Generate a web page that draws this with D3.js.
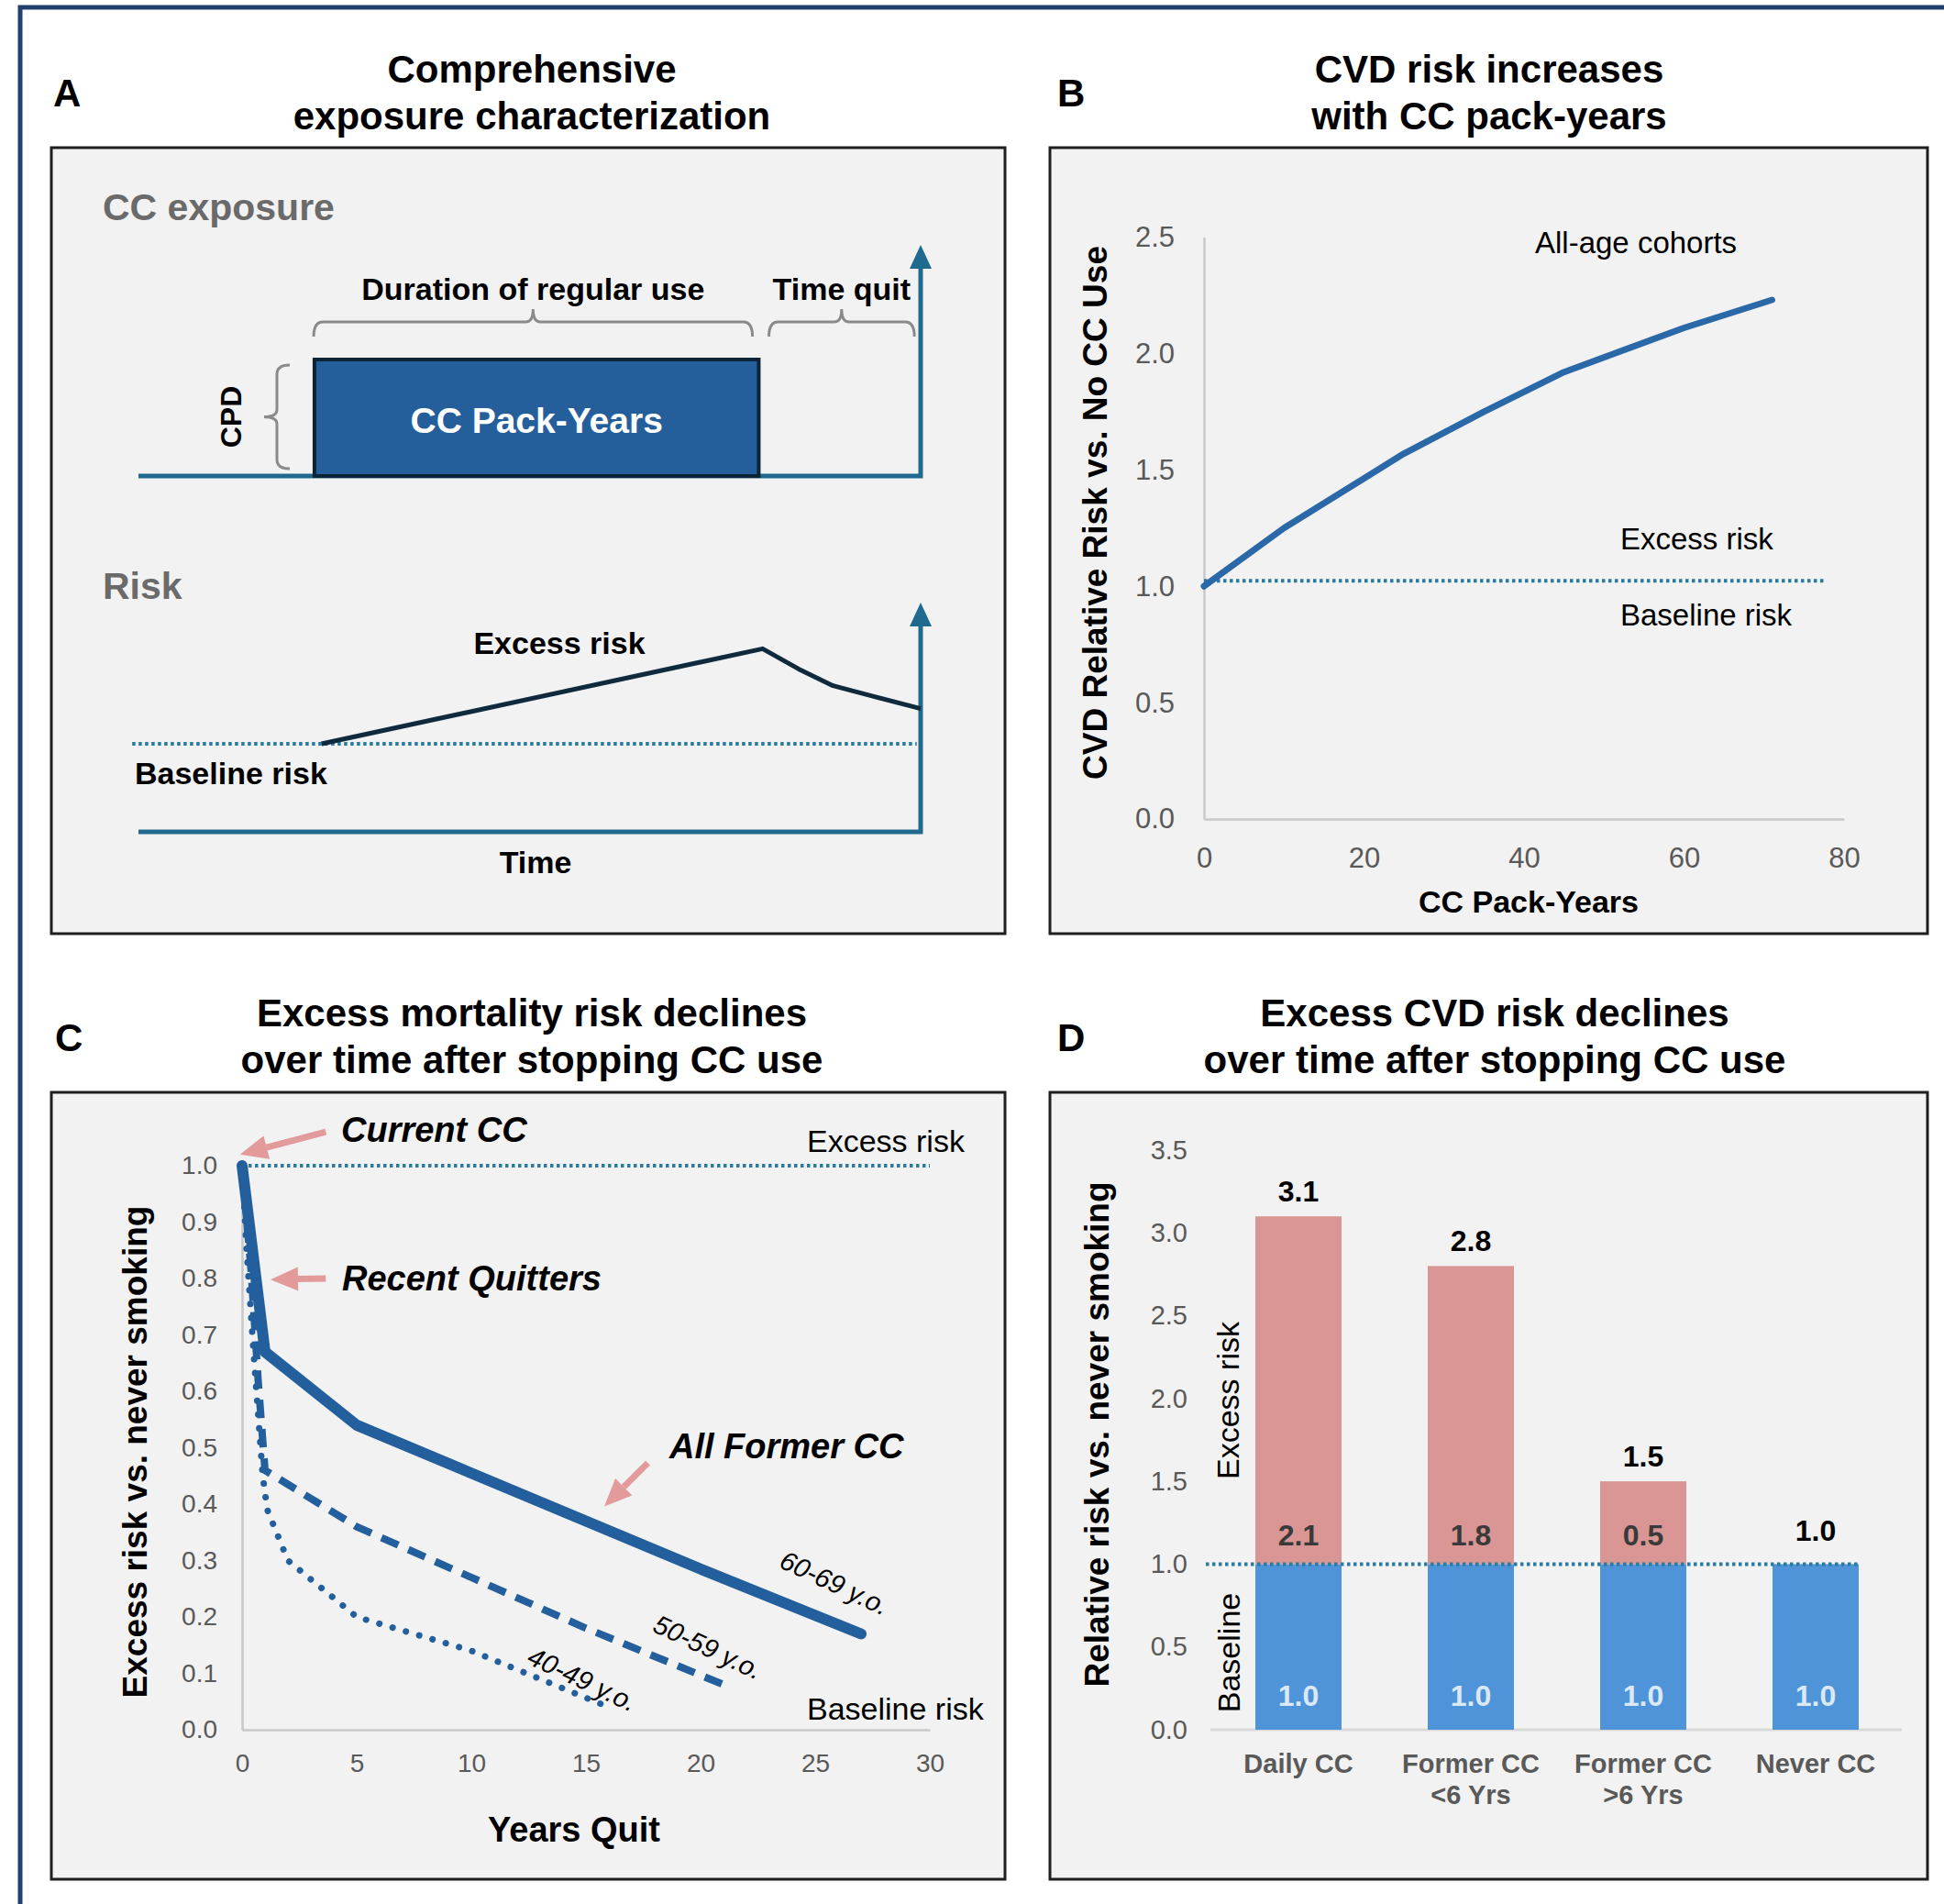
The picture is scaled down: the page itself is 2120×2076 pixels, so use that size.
<!DOCTYPE html>
<html><head><meta charset="utf-8">
<script src="https://cdn.jsdelivr.net/npm/d3@7"></script>
<style>body{margin:0;background:#fff}svg{display:block}</style>
</head><body><svg id="c" width="2120" height="2076"></svg>
<script>
// ---------------- DATA ----------------
// Panel A (schematic; time in arbitrary units 0-100, risk relative to baseline = 1)
const aUsePeriod = [22.5, 79.3];
const aBraceLabels = ['Duration of regular use', 'Time quit'];
const aBraceFrom = [22.4, 80.6];
const aBraceTo = [78.5, 99.2];
const aRiskTime = [23.4, 79.8, 84.4, 88.8, 93.9, 100];
const aRiskLevel = [1.0, 2.08, 1.85, 1.66, 1.54, 1.40];

// Panel B
const bPackYears = [0, 10, 25, 35, 45, 60, 71];
const bRelRisk = [1.0, 1.25, 1.57, 1.75, 1.92, 2.11, 2.23];
const bXTicks = [0, 20, 40, 60, 80];
const bYTicks = [0, 0.5, 1.0, 1.5, 2.0, 2.5];

// Panel C
const cYears6069 = [0, 1, 5, 10, 15, 20, 27];
const cRisk6069 = [1.0, 0.67, 0.54, 0.455, 0.37, 0.285, 0.17];
const cYears5059 = [0, 0.4, 0.7, 1, 5, 10, 15, 21];
const cRisk5059 = [1.0, 0.81, 0.62, 0.46, 0.36, 0.27, 0.18, 0.08];
const cYears4049 = [0, 0.2, 0.5, 0.9, 1.1, 2, 5, 10, 16];
const cRisk4049 = [1.0, 0.85, 0.67, 0.45, 0.39, 0.30, 0.20, 0.14, 0.04];
const cXTicks = [0, 5, 10, 15, 20, 25, 30];
const cYTicks = [0, 0.1, 0.2, 0.3, 0.4, 0.5, 0.6, 0.7, 0.8, 0.9, 1.0];

// Panel D
const dCategories = ['Daily CC', 'Former CC\n<6 Yrs', 'Former CC\n>6 Yrs', 'Never CC'];
const dBaseline = [1.0, 1.0, 1.0, 1.0];
const dExcess = [2.1, 1.8, 0.5, 0.0];
const dYTicks = [0, 0.5, 1.0, 1.5, 2.0, 2.5, 3.0, 3.5];

// ---------------- DRAW ----------------
const FONT = '"Liberation Sans", Arial, Helvetica, sans-serif';
const BLUE = '#235f9c', TEAL = '#1f6a8e', DOT = '#2a7ba0', PINK = '#e29a9a', GRAY = '#595959';
const svg = d3.select('#c').style('font-family', FONT);
svg.append('rect').attr('width', 2120).attr('height', 2076).attr('fill', '#fff');

function txt(g, x, y, s, size, opts = {}) {
  const t = g.append('text').attr('x', x).attr('y', y).text(s)
    .attr('font-size', size).attr('font-weight', opts.bold ? 'bold' : 'normal')
    .attr('font-style', opts.italic ? 'italic' : 'normal')
    .attr('fill', opts.fill || '#000').attr('text-anchor', opts.anchor || 'start');
  if (opts.rotate !== undefined) t.attr('transform', `rotate(${opts.rotate},${x},${y})`);
  if (opts.central) t.attr('dominant-baseline', 'central');
  return t;
}

// outer frame
svg.append('path').attr('d', 'M22,2076 L22,8 L2120,8').attr('fill', 'none')
  .attr('stroke', '#22406e').attr('stroke-width', 5);

// panel boxes
[[56, 161, 1040, 857], [1145, 161, 957, 857], [56, 1191, 1040, 858], [1145, 1191, 957, 858]].forEach(b => {
  svg.append('rect').attr('x', b[0]).attr('y', b[1]).attr('width', b[2]).attr('height', b[3])
    .attr('fill', '#f2f2f2').attr('stroke', '#1e1e1e').attr('stroke-width', 3);
});

// panel letters & titles
[['A', 58, 116], ['B', 1153, 116], ['C', 60, 1146], ['D', 1153, 1146]].forEach(l => txt(svg, l[1], l[2], l[0], 42, {bold: true}));
const titles = [
  [580, 90, ['Comprehensive', 'exposure characterization']],
  [1624, 90, ['CVD risk increases', 'with CC pack-years']],
  [580, 1119, ['Excess mortality risk declines', 'over time after stopping CC use']],
  [1630, 1119, ['Excess CVD risk declines', 'over time after stopping CC use']]
];
titles.forEach(t => t[2].forEach((line, i) => txt(svg, t[0], t[1] + i * 51, line, 42, {bold: true, anchor: 'middle'})));

// ======== Panel A ========
const gA = svg.append('g');
const ax = d3.scaleLinear().domain([0, 100]).range([151, 1004]);
const ayExp = d3.scaleLinear().domain([0, 1]).range([519, 392]);
const ayRisk = d3.scaleLinear().domain([0, 1]).range([907, 811]);

txt(gA, 112, 240, 'CC exposure', 41, {bold: true, fill: '#6a6a6a'});
txt(gA, 112, 653, 'Risk', 41, {bold: true, fill: '#6a6a6a'});

function axisArrow(g, yBase, yTop) {
  g.append('path').attr('d', `M${ax(0)},${yBase} H${ax(100)} V${yTop + 20}`).attr('fill', 'none')
    .attr('stroke', TEAL).attr('stroke-width', 5);
  g.append('path').attr('d', `M${ax(100) - 12},${yTop + 26} L${ax(100)},${yTop} L${ax(100) + 12},${yTop + 26} Z`).attr('fill', TEAL);
}
axisArrow(gA, ayExp(0), 267);

// pack-years rectangle
gA.append('rect').attr('x', ax(aUsePeriod[0])).attr('y', ayExp(1))
  .attr('width', ax(aUsePeriod[1]) - ax(aUsePeriod[0])).attr('height', ayExp(0) - ayExp(1))
  .attr('fill', '#245f9c').attr('stroke', '#0c2436').attr('stroke-width', 4);
txt(gA, (ax(aUsePeriod[0]) + ax(aUsePeriod[1])) / 2, 458, 'CC Pack-Years', 39, {bold: true, fill: '#fff', anchor: 'middle', central: true});

// horizontal braces
function hBrace(x1, x2, y) {
  const m = (x1 + x2) / 2;
  return `M${x1},${y + 16} Q${x1},${y} ${x1 + 10},${y} H${m - 8} Q${m},${y} ${m},${y - 14} Q${m},${y} ${m + 8},${y} H${x2 - 10} Q${x2},${y} ${x2},${y + 16}`;
}
aBraceLabels.forEach((lab, i) => {
  const x1 = ax(aBraceFrom[i]), x2 = ax(aBraceTo[i]);
  gA.append('path').attr('d', hBrace(x1, x2, 351)).attr('fill', 'none').attr('stroke', '#8a8a8a').attr('stroke-width', 3);
  txt(gA, (x1 + x2) / 2, 327, lab, 34, {bold: true, anchor: 'middle'});
});
// CPD brace (vertical)
{
  const yT = ayExp(1) + 6, yB = ayExp(0) - 8, ym = (yT + yB) / 2, x = 302;
  gA.append('path').attr('d', `M${x + 14},${yT} Q${x},${yT} ${x},${yT + 10} V${ym - 8} Q${x},${ym} ${x - 14},${ym} Q${x},${ym} ${x},${ym + 8} V${yB - 10} Q${x},${yB} ${x + 14},${yB}`)
    .attr('fill', 'none').attr('stroke', '#8a8a8a').attr('stroke-width', 3);
  txt(gA, 252, ym, 'CPD', 32, {bold: true, anchor: 'middle', central: true, rotate: -90});
}

// risk schematic
axisArrow(gA, ayRisk(0), 657);
gA.append('line').attr('x1', ax(-0.8)).attr('x2', ax(99.5)).attr('y1', ayRisk(1)).attr('y2', ayRisk(1))
  .attr('stroke', DOT).attr('stroke-width', 4).attr('stroke-dasharray', '3.5 3.5');
gA.append('path').datum(aRiskTime.map((t, i) => [t, aRiskLevel[i]]))
  .attr('d', d3.line().x(d => ax(d[0])).y(d => ayRisk(d[1])))
  .attr('fill', 'none').attr('stroke', '#0e2a3c').attr('stroke-width', 5).attr('stroke-linejoin', 'round');
txt(gA, 610, 713, 'Excess risk', 34, {bold: true, anchor: 'middle'});
txt(gA, 147, 855, 'Baseline risk', 34, {bold: true});
txt(gA, 584, 952, 'Time', 34, {bold: true, anchor: 'middle'});

// ======== Panel B ========
const gB = svg.append('g');
const bx = d3.scaleLinear().domain([0, 80]).range([1313, 2011]);
const by = d3.scaleLinear().domain([0, 2.5]).range([893, 258.5]);
function styleAxis(g, size) {
  g.select('.domain').attr('stroke', '#c8c8c8').attr('stroke-width', 2.5);
  g.selectAll('.tick text').attr('font-size', size).attr('fill', GRAY).attr('font-family', FONT);
  g.selectAll('.tick line').remove();
}
gB.append('g').attr('transform', `translate(${bx(0)},0)`)
  .call(d3.axisLeft(by).tickValues(bYTicks).tickFormat(d3.format('.1f')).tickSize(0).tickPadding(32))
  .call(g => styleAxis(g, 31));
gB.append('g').attr('transform', `translate(0,${by(0)})`)
  .call(d3.axisBottom(bx).tickValues(bXTicks).tickFormat(d3.format('d')).tickSize(0).tickPadding(31))
  .call(g => styleAxis(g, 31));
gB.append('line').attr('x1', bx(0)).attr('x2', bx(77.5)).attr('y1', by(1.0) - 6).attr('y2', by(1.0) - 6)
  .attr('stroke', DOT).attr('stroke-width', 4).attr('stroke-dasharray', '3.5 3.5');
gB.append('path').datum(bPackYears.map((p, i) => [p, bRelRisk[i]]))
  .attr('d', d3.line().x(d => bx(d[0])).y(d => by(d[1])))
  .attr('fill', 'none').attr('stroke', '#2b68a8').attr('stroke-width', 7).attr('stroke-linecap', 'round').attr('stroke-linejoin', 'round');
txt(gB, 1674, 276, 'All-age cohorts', 33);
txt(gB, 1767, 599, 'Excess risk', 33);
txt(gB, 1767, 682, 'Baseline risk', 33);
txt(gB, 1667, 995, 'CC Pack-Years', 34, {bold: true, anchor: 'middle'});
txt(gB, 1194, 559, 'CVD Relative Risk vs. No CC Use', 37, {bold: true, anchor: 'middle', central: true, rotate: -90});

// ======== Panel C ========
const gC = svg.append('g');
const cx = d3.scaleLinear().domain([0, 30]).range([264, 1014]);
const cy = d3.scaleLinear().domain([0, 1]).range([1886, 1271]);
gC.append('g').attr('transform', `translate(${cx(0)},0)`)
  .call(d3.axisLeft(cy).tickValues(cYTicks).tickFormat(d3.format('.1f')).tickSize(0).tickPadding(27))
  .call(g => styleAxis(g, 28));
gC.append('g').attr('transform', `translate(0,${cy(0)})`)
  .call(d3.axisBottom(cx).tickValues(cXTicks).tickFormat(d3.format('d')).tickSize(0).tickPadding(26))
  .call(g => styleAxis(g, 28));
gC.append('line').attr('x1', cx(0)).attr('x2', cx(30)).attr('y1', cy(1.0)).attr('y2', cy(1.0))
  .attr('stroke', DOT).attr('stroke-width', 4).attr('stroke-dasharray', '3.5 3.5');
const cLine = d3.line().x(d => cx(d[0])).y(d => cy(d[1]));
gC.append('path').datum(cYears4049.map((v, i) => [v, cRisk4049[i]])).attr('d', cLine)
  .attr('fill', 'none').attr('stroke', BLUE).attr('stroke-width', 7).attr('stroke-dasharray', '0.1 15').attr('stroke-linecap', 'round');
gC.append('path').datum(cYears5059.map((v, i) => [v, cRisk5059[i]])).attr('d', cLine)
  .attr('fill', 'none').attr('stroke', BLUE).attr('stroke-width', 8).attr('stroke-dasharray', '20 12');
gC.append('path').datum(cYears6069.map((v, i) => [v, cRisk6069[i]])).attr('d', cLine)
  .attr('fill', 'none').attr('stroke', BLUE).attr('stroke-width', 12).attr('stroke-linecap', 'round').attr('stroke-linejoin', 'round');

// annotations
function arrow(g, x1, y1, x2, y2) {
  const ang = Math.atan2(y2 - y1, x2 - x1), L = 30, W = 13;
  const bxp = x2 - L * Math.cos(ang), byp = y2 - L * Math.sin(ang);
  g.append('line').attr('x1', x1).attr('y1', y1).attr('x2', bxp).attr('y2', byp).attr('stroke', PINK).attr('stroke-width', 7);
  const px = -Math.sin(ang) * W, py = Math.cos(ang) * W;
  g.append('path').attr('d', `M${x2},${y2} L${bxp + px},${byp + py} L${bxp - px},${byp - py} Z`).attr('fill', PINK);
}
arrow(gC, cx(3.65), cy(1.06), cx(-0.09), cy(1.02));
arrow(gC, cx(3.65), cy(0.80), cx(1.24), cy(0.798));
arrow(gC, cx(17.7), cy(0.473), cx(15.8), cy(0.396));
txt(gC, 372, 1245, 'Current CC', 38, {bold: true, italic: true});
txt(gC, 373, 1407, 'Recent Quitters', 38, {bold: true, italic: true});
txt(gC, 730, 1590, 'All Former CC', 38, {bold: true, italic: true});
txt(gC, 880, 1256, 'Excess risk', 34);
txt(gC, 880, 1875, 'Baseline risk', 34);
txt(gC, 910, 1726, '60-69 y.o.', 29, {italic: true, anchor: 'middle', central: true, rotate: 25});
txt(gC, 772, 1796, '50-59 y.o.', 29, {italic: true, anchor: 'middle', central: true, rotate: 25});
txt(gC, 635, 1831, '40-49 y.o.', 29, {italic: true, anchor: 'middle', central: true, rotate: 25});
txt(gC, 626, 2008, 'Years Quit', 38, {bold: true, anchor: 'middle'});
txt(gC, 147, 1583, 'Excess risk vs. never smoking', 37, {bold: true, anchor: 'middle', central: true, rotate: -90});

// ======== Panel D ========
const gD = svg.append('g');
const dx = d3.scaleBand().domain(dCategories).range([1322, 2074]).paddingInner(0.5).paddingOuter(0.25);
const dy = d3.scaleLinear().domain([0, 3.5]).range([1886, 1254]);
gD.append('g').attr('transform', 'translate(1322,0)')
  .call(d3.axisLeft(dy).tickValues(dYTicks).tickFormat(d3.format('.1f')).tickSize(0).tickPadding(27))
  .call(g => { styleAxis(g, 29); g.select('.domain').remove(); });
gD.append('line').attr('x1', 1320).attr('x2', 2074).attr('y1', dy(0)).attr('y2', dy(0))
  .attr('stroke', '#d9d9d9').attr('stroke-width', 3);
const dData = dCategories.map((c, i) => ({c, base: dBaseline[i], ex: dExcess[i], total: dBaseline[i] + dExcess[i]}));
gD.selectAll('.base').data(dData).join('rect').attr('x', d => dx(d.c)).attr('width', dx.bandwidth())
  .attr('y', d => dy(d.base)).attr('height', d => dy(0) - dy(d.base)).attr('fill', '#4f94d8');
gD.selectAll('.ex').data(dData.filter(d => d.ex > 0)).join('rect').attr('x', d => dx(d.c)).attr('width', dx.bandwidth())
  .attr('y', d => dy(d.total)).attr('height', d => dy(d.base) - dy(d.total)).attr('fill', '#d99694');
gD.append('line').attr('x1', 1315).attr('x2', dx(dCategories[3]) + dx.bandwidth()).attr('y1', dy(1.0)).attr('y2', dy(1.0))
  .attr('stroke', DOT).attr('stroke-width', 4).attr('stroke-dasharray', '3.5 3.5');
const fmt = d3.format('.1f');
dData.forEach(d => {
  const xc = dx(d.c) + dx.bandwidth() / 2;
  txt(gD, xc, dy(d.total) - (d.ex > 0 ? 16 : 25), fmt(d.total), 32, {bold: true, anchor: 'middle'});
  if (d.ex > 0) txt(gD, xc, dy(d.base) - 20, fmt(d.ex), 32, {bold: true, anchor: 'middle', fill: '#3a3a3a'});
  txt(gD, xc, dy(0) - 26, fmt(d.base), 32, {bold: true, anchor: 'middle', fill: '#dbe8f6'});
  d.c.split('\n').forEach((line, i) => txt(gD, xc, 1933 + i * 34, line, 29, {bold: true, anchor: 'middle', fill: GRAY}));
});
txt(gD, 1339, 1527, 'Excess risk', 34, {anchor: 'middle', central: true, rotate: -90});
txt(gD, 1340, 1802, 'Baseline', 34, {anchor: 'middle', central: true, rotate: -90});
txt(gD, 1196, 1564, 'Relative risk vs. never smoking', 37, {bold: true, anchor: 'middle', central: true, rotate: -90});
</script></body></html>
